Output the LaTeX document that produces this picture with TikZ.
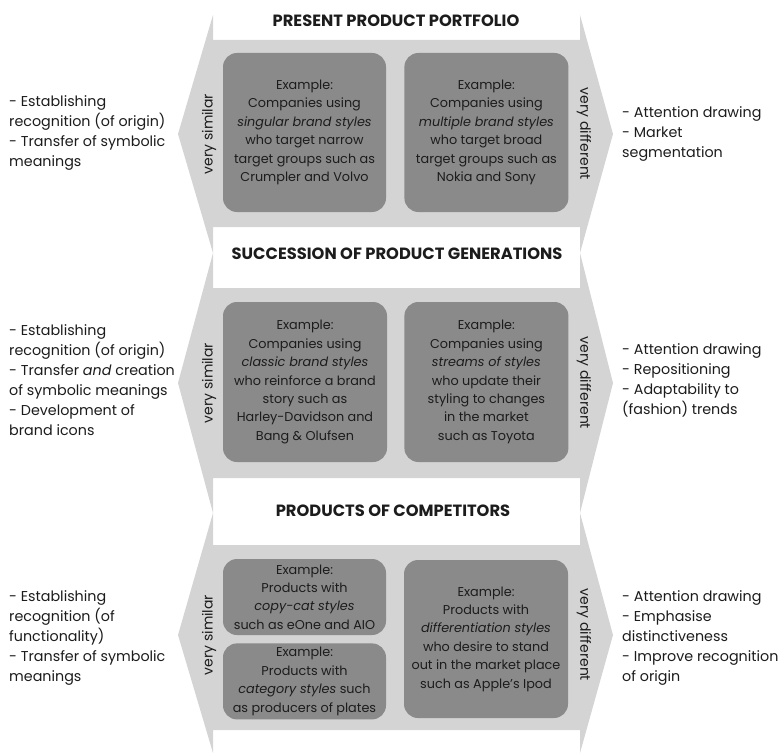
\documentclass[tikz,border=0pt]{standalone}
\usepackage{fontspec}
\setmainfont{Poppins}
\usetikzlibrary{positioning}
\definecolor{bandgray}{HTML}{D4D4D4}
\definecolor{boxgray}{HTML}{8A8A8A}
\definecolor{ink}{HTML}{1C1C1C}
\tikzset {
    band/.style={fill=bandgray, draw=none},
    example/.style={fill=boxgray, rounded corners=14pt, align=center, text=ink,
        inner sep=0pt, font=\fontsize{12.8}{18.4}\selectfont},
    heading/.style={text=ink, font=\bfseries\fontsize{16.3}{18}\selectfont},
    effect/.style={align=left, inner sep=0pt, text=ink, font=\fontsize{14.3}{20}\selectfont},
    scalelabel/.style={inner sep=0pt, text=ink, font=\fontsize{14}{16}\selectfont}
}

\begin{document}
\begin{tikzpicture}[x=1pt, y=-1pt]
    \useasboundingbox (0,0) rectangle (781,754);

    % the three double arrows: top of head, top of shaft, bottom of shaft, bottom of head, tip
    \foreach \ht/\bt/\bb/\hb/\tip in {15/40/227/253/134, 253/288/478/513/383, 513/545/730/753/635}
        \fill[band] (213,\ht) -- (213,\bt) -- (580,\bt) -- (580,\ht) -- (613,\tip)
            -- (580,\hb) -- (580,\bb) -- (213,\bb) -- (213,\hb) -- (178,\tip) -- cycle;

    % present product portfolio
    \node[heading] (pp) at (396,21) {PRESENT PRODUCT PORTFOLIO};
    \node[example, minimum width=163pt, minimum height=159pt] (pp-single) at (304.5,132.5)
        {Example:\\ Companies using\\ \textit{singular brand styles}\\ who target narrow\\ target groups such as\\ Crumpler and Volvo};
    \node[example, minimum width=164pt, minimum height=159pt, right=18pt of pp-single] (pp-multiple)
        {Example:\\ Companies using\\ \textit{multiple brand styles}\\ who target broad\\ target groups such as\\ Nokia and Sony};
    \node[scalelabel, rotate=90] (pp-similar) at (209,134) {very similar};
    \node[scalelabel, rotate=-90] (pp-different) at (584,134) {very different};
    \node[effect, anchor=west] (pp-why-similar) at (9,133)
        {- Establishing\\ recognition (of origin)\\ - Transfer of symbolic\\ meanings};
    \node[effect, anchor=west] (pp-why-different) at (622,134)
        {- Attention drawing\\ - Market\\ segmentation};

    % succession of product generations
    \node[heading] (spg) at (397,254) {SUCCESSION OF PRODUCT GENERATIONS};
    \node[example, minimum width=164pt, minimum height=160pt] (spg-classic) at (305,382)
        {Example:\\ Companies using\\ \textit{classic brand styles}\\ who reinforce a brand\\ story such as\\ Harley-Davidson and\\ Bang \& Olufsen};
    \node[example, minimum width=164pt, minimum height=160pt, right=17pt of spg-classic] (spg-streams)
        {Example:\\ Companies using\\ \textit{streams of styles}\\ who update their\\ styling to changes\\ in the market\\ such as Toyota};
    \node[scalelabel, rotate=90] (spg-similar) at (209,383) {very similar};
    \node[scalelabel, rotate=-90] (spg-different) at (584,383) {very different};
    \node[effect, anchor=west] (spg-why-similar) at (9,380)
        {- Establishing\\ recognition (of origin)\\ - Transfer \textit{and} creation\\ of symbolic meanings\\ - Development of\\ brand icons};
    \node[effect, anchor=west] (spg-why-different) at (622,380)
        {- Attention drawing\\ - Repositioning\\ - Adaptability to\\ (fashion) trends};

    % products of competitors
    \node[heading] (pc) at (393,511) {PRODUCTS OF COMPETITORS};
    \node[example, minimum width=163pt, minimum height=76pt] (pc-copy) at (304.5,597)
        {Example:\\ Products with\\ \textit{copy-cat styles}\\ such as eOne and AIO};
    \node[example, minimum width=163pt, minimum height=76pt, below=8pt of pc-copy] (pc-category)
        {Example:\\ Products with\\ \textit{category styles} such\\ as producers of plates};
    \node[example, minimum width=164pt, minimum height=158pt] (pc-differ) at (486,639)
        {Example:\\ Products with\\ \textit{differentiation styles}\\ who desire to stand\\ out in the market place\\ such as Apple's Ipod};
    \node[scalelabel, rotate=90] (pc-similar) at (209,635) {very similar};
    \node[scalelabel, rotate=-90] (pc-different) at (584,635) {very different};
    \node[effect, anchor=west] (pc-why-similar) at (9,638)
        {- Establishing\\ recognition (of\\ functionality)\\ - Transfer of symbolic\\ meanings};
    \node[effect, anchor=west] (pc-why-different) at (622,638)
        {- Attention drawing\\ - Emphasise\\ distinctiveness\\ - Improve recognition\\ of origin};
\end{tikzpicture}
\end{document}
